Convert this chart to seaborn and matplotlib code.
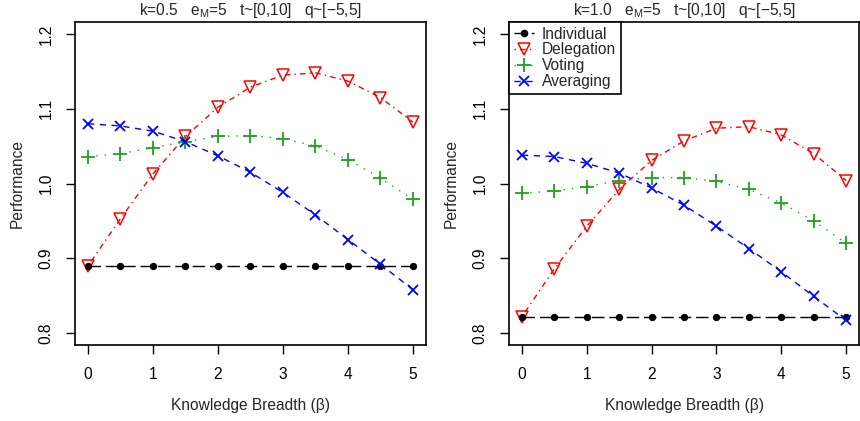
import matplotlib
matplotlib.use("Agg")
import matplotlib.pyplot as plt
import pandas as pd
import seaborn as sns

sns.set_theme(style="ticks")
plt.rcParams["font.family"] = ["Liberation Sans", "DejaVu Sans"]
plt.rcParams["mathtext.default"] = "regular"

# Knowledge breadth values (x axis)
beta = [0.0, 0.5, 1.0, 1.5, 2.0, 2.5, 3.0, 3.5, 4.0, 4.5, 5.0]

# Panel 1: k = 0.5
ind_k05 = [0.890] * 11
del_k05 = [0.890, 0.953, 1.013, 1.063, 1.102, 1.129, 1.145, 1.148, 1.137, 1.115, 1.082]
vot_k05 = [1.036, 1.040, 1.048, 1.056, 1.063, 1.064, 1.060, 1.050, 1.032, 1.007, 0.979]
avg_k05 = [1.080, 1.077, 1.070, 1.056, 1.037, 1.015, 0.988, 0.958, 0.925, 0.892, 0.858]

# Panel 2: k = 1.0
ind_k10 = [0.822] * 11
del_k10 = [0.822, 0.886, 0.943, 0.992, 1.031, 1.057, 1.074, 1.076, 1.065, 1.040, 1.004]
vot_k10 = [0.987, 0.990, 0.996, 1.004, 1.008, 1.008, 1.003, 0.992, 0.974, 0.950, 0.920]
avg_k10 = [1.038, 1.036, 1.027, 1.014, 0.994, 0.971, 0.943, 0.913, 0.882, 0.849, 0.817]

titles = [
    r"k=0.5   e$_{M}$=5   t~[0,10]   q~[$-$5,5]",
    r"k=1.0   e$_{M}$=5   t~[0,10]   q~[$-$5,5]",
]
panels = [
    {"Individual": ind_k05, "Delegation": del_k05, "Voting": vot_k05, "Averaging": avg_k05},
    {"Individual": ind_k10, "Delegation": del_k10, "Voting": vot_k10, "Averaging": avg_k10},
]
METHODS = ["Individual", "Delegation", "Voting", "Averaging"]

# R-like style per method: colour, line type, marker
STYLES = {
    "Individual": dict(color="black", linestyle=(0, (9, 3.5)), marker="o",
                       markersize=4.5, markerfacecolor="black", markeredgecolor="black"),
    "Delegation": dict(color="#FF0000", linestyle=(0, (1, 3, 4, 3)), marker="v",
                       markersize=8, markerfacecolor="none", markeredgecolor="#FF0000",
                       markeredgewidth=1.1),
    "Voting": dict(color="#1FA01F", linestyle=(0, (1, 5)), marker="+",
                   markersize=10, markeredgecolor="#1FA01F", markeredgewidth=1.3),
    "Averaging": dict(color="#0000FF", linestyle=(0, (4.5, 4)), marker="x",
                      markersize=7.5, markeredgecolor="#0000FF", markeredgewidth=1.3),
}

fig = plt.figure(figsize=(8.6, 4.21), dpi=100)
ax1 = fig.add_axes([0.0872, 0.1805, 0.4081, 0.7672])
ax2 = fig.add_axes([0.5919, 0.1805, 0.4070, 0.7672])

for ax, title, series in zip([ax1, ax2], titles, panels):
    for name in ["Delegation", "Individual", "Voting", "Averaging"]:
        df = pd.DataFrame({"beta": beta, "perf": series[name]})
        sns.lineplot(data=df, x="beta", y="perf", ax=ax, label=name,
                     linewidth=1.0, legend=False, **STYLES[name])
    ax.set_xlim(-0.2, 5.2)
    ax.set_ylim(0.784, 1.216)
    ax.set_xticks([0, 1, 2, 3, 4, 5])
    ax.set_yticks([0.8, 0.9, 1.0, 1.1, 1.2])
    ax.set_yticklabels(["0.8", "0.9", "1.0", "1.1", "1.2"], rotation=90, va="center")
    ax.tick_params(axis="both", length=6.5, width=1.0, labelsize=11.2, color="black",
                   labelcolor="black", pad=9)
    for sp in ax.spines.values():
        sp.set_visible(True)
        sp.set_color("black")
        sp.set_linewidth(1.2)
    ax.set_xlabel("Knowledge Breadth (\u03b2)", fontsize=11.2, labelpad=12)
    ax.set_ylabel("Performance", fontsize=11.2, labelpad=10)
    ax.set_title(title, fontsize=11.2, pad=5)
    ax.grid(False)

# legend only in the right panel, top-left, R-style box
handles = [plt.Line2D([], [], linewidth=1.0, **STYLES[n]) for n in METHODS]
leg = ax2.legend(handles, METHODS, loc="upper left", fontsize=11.2, frameon=True,
                 fancybox=False, framealpha=1, edgecolor="black", borderaxespad=0,
                 borderpad=0.3, labelspacing=0.05, handlelength=1.3,
                 handletextpad=0.5)
leg.get_frame().set_linewidth(1.2)

fig.savefig("out.png", dpi=100)
